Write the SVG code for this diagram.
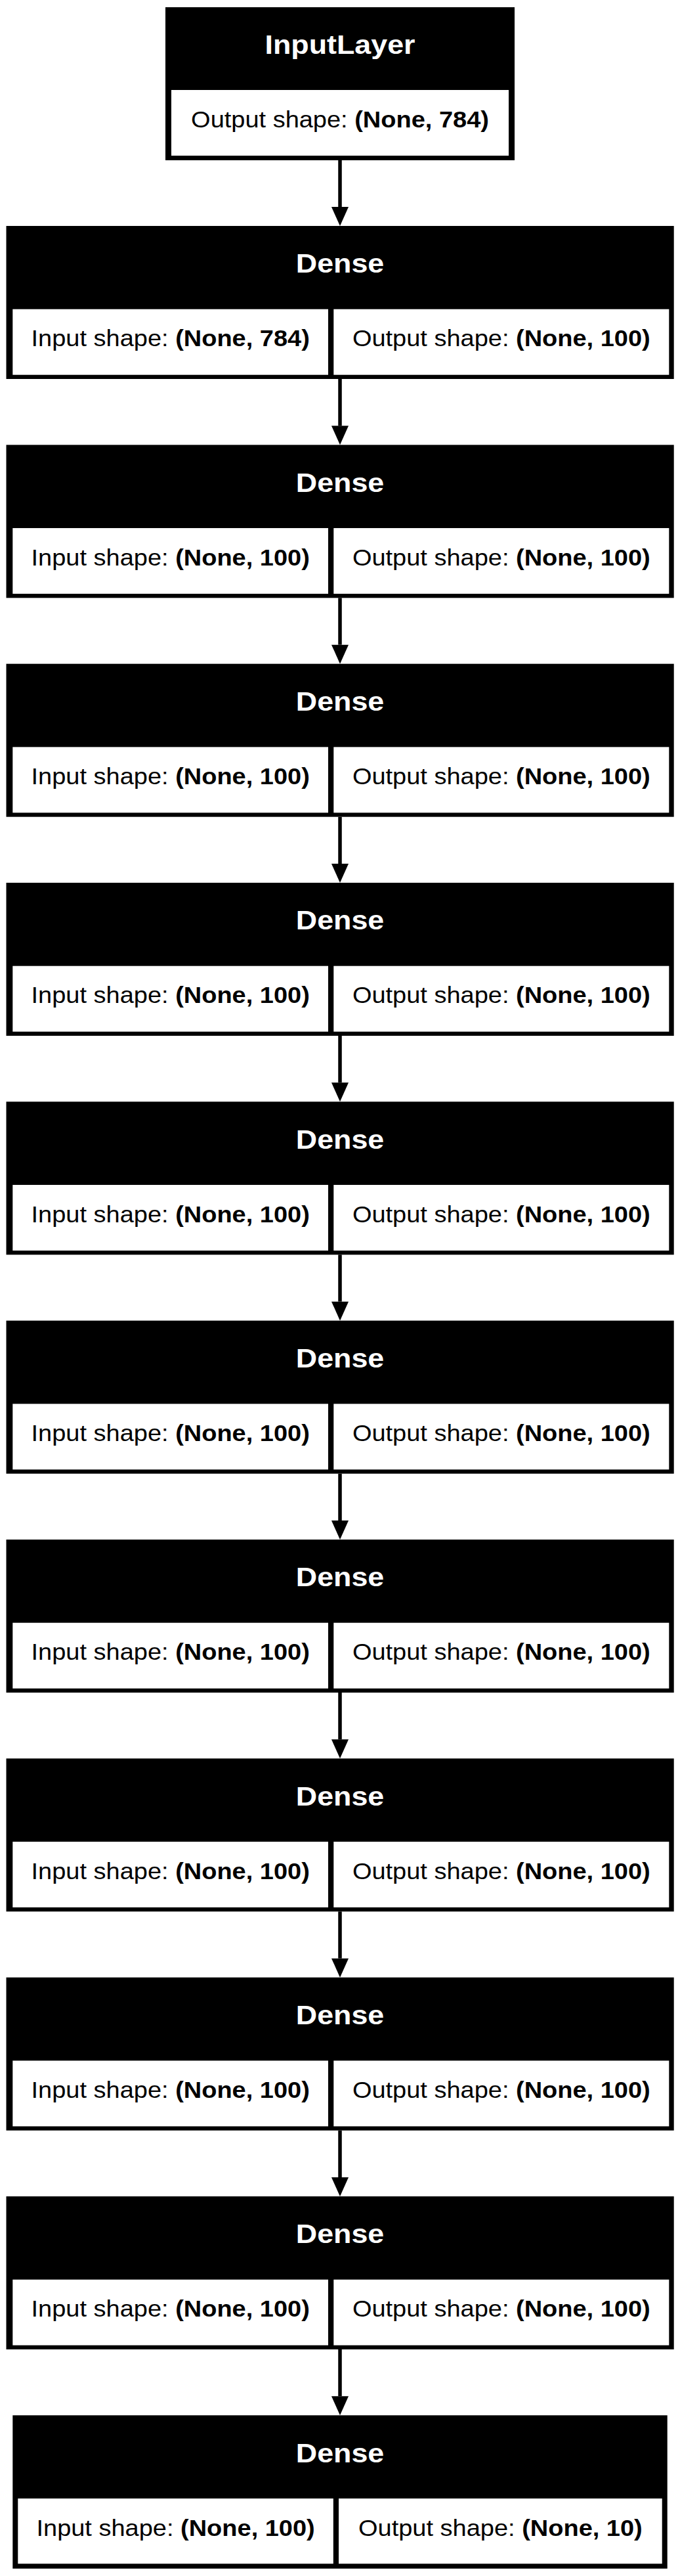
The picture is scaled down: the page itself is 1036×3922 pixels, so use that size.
<svg xmlns="http://www.w3.org/2000/svg" width="1036" height="3922" viewBox="0 0 1036 3922">
<style>
.bg{fill:#fff}
.box{fill:#000}
.cell{fill:#fff}
.title{font-family:"Liberation Sans",Arial,sans-serif;font-weight:bold;font-size:40px;fill:#fff;text-anchor:middle}
.body{font-family:"Liberation Sans",Arial,sans-serif;font-size:36px;fill:#000;text-anchor:middle}
.b{font-weight:bold}
.edge{stroke:#000;stroke-width:5.5;fill:none}
</style>
<defs>
<marker id="arr" markerUnits="userSpaceOnUse" markerWidth="30" markerHeight="28" refX="0" refY="13" orient="auto" viewBox="0 0 30 26" overflow="visible">
<path d="M0,0 L29,13 L0,26 Z" fill="#000"/>
</marker>
</defs>
<rect class="bg" x="0" y="0" width="1036" height="3922"/>

<g id="connectors">
<path class="edge" d="M518,244 V315" marker-end="url(#arr)"/>
<path class="edge" d="M518,577 V648.33" marker-end="url(#arr)"/>
<path class="edge" d="M518,910.33 V981.67" marker-end="url(#arr)"/>
<path class="edge" d="M518,1243.67 V1315" marker-end="url(#arr)"/>
<path class="edge" d="M518,1577 V1648.33" marker-end="url(#arr)"/>
<path class="edge" d="M518,1910.33 V1981.67" marker-end="url(#arr)"/>
<path class="edge" d="M518,2243.67 V2315" marker-end="url(#arr)"/>
<path class="edge" d="M518,2577 V2648.33" marker-end="url(#arr)"/>
<path class="edge" d="M518,2910.33 V2981.67" marker-end="url(#arr)"/>
<path class="edge" d="M518,3243.67 V3315" marker-end="url(#arr)"/>
<path class="edge" d="M518,3577 V3648.33" marker-end="url(#arr)"/>
</g>

<g id="node-input">
<rect class="box" x="252" y="11" width="532" height="233"/>
<rect class="cell" x="261" y="137" width="514" height="100"/>
<text class="title" transform="translate(518,82.3) scale(1.12,1)">InputLayer</text>
<text class="body" transform="translate(518,193.5) scale(1.055,1)">Output shape: <tspan class="b">(None, 784)</tspan></text>
</g>

<g id="node-dense-1">
<rect class="box" x="9.5" y="344" width="1017.2" height="233"/>
<rect class="cell" x="19.3" y="470.7" width="480.7" height="100"/>
<rect class="cell" x="508.3" y="470.7" width="511" height="100"/>
<text class="title" transform="translate(518,415.3) scale(1.12,1)">Dense</text>
<text class="body" transform="translate(259.7,527.2) scale(1.055,1)">Input shape: <tspan class="b">(None, 784)</tspan></text>
<text class="body" transform="translate(763.8,527.2) scale(1.055,1)">Output shape: <tspan class="b">(None, 100)</tspan></text>
</g>

<g id="node-dense-2">
<rect class="box" x="9.5" y="677.33" width="1017.2" height="233"/>
<rect class="cell" x="19.3" y="804.03" width="480.7" height="100"/>
<rect class="cell" x="508.3" y="804.03" width="511" height="100"/>
<text class="title" transform="translate(518,748.63) scale(1.12,1)">Dense</text>
<text class="body" transform="translate(259.7,860.53) scale(1.055,1)">Input shape: <tspan class="b">(None, 100)</tspan></text>
<text class="body" transform="translate(763.8,860.53) scale(1.055,1)">Output shape: <tspan class="b">(None, 100)</tspan></text>
</g>

<g id="node-dense-3">
<rect class="box" x="9.5" y="1010.67" width="1017.2" height="233"/>
<rect class="cell" x="19.3" y="1137.37" width="480.7" height="100"/>
<rect class="cell" x="508.3" y="1137.37" width="511" height="100"/>
<text class="title" transform="translate(518,1081.97) scale(1.12,1)">Dense</text>
<text class="body" transform="translate(259.7,1193.87) scale(1.055,1)">Input shape: <tspan class="b">(None, 100)</tspan></text>
<text class="body" transform="translate(763.8,1193.87) scale(1.055,1)">Output shape: <tspan class="b">(None, 100)</tspan></text>
</g>

<g id="node-dense-4">
<rect class="box" x="9.5" y="1344" width="1017.2" height="233"/>
<rect class="cell" x="19.3" y="1470.7" width="480.7" height="100"/>
<rect class="cell" x="508.3" y="1470.7" width="511" height="100"/>
<text class="title" transform="translate(518,1415.3) scale(1.12,1)">Dense</text>
<text class="body" transform="translate(259.7,1527.2) scale(1.055,1)">Input shape: <tspan class="b">(None, 100)</tspan></text>
<text class="body" transform="translate(763.8,1527.2) scale(1.055,1)">Output shape: <tspan class="b">(None, 100)</tspan></text>
</g>

<g id="node-dense-5">
<rect class="box" x="9.5" y="1677.33" width="1017.2" height="233"/>
<rect class="cell" x="19.3" y="1804.03" width="480.7" height="100"/>
<rect class="cell" x="508.3" y="1804.03" width="511" height="100"/>
<text class="title" transform="translate(518,1748.63) scale(1.12,1)">Dense</text>
<text class="body" transform="translate(259.7,1860.53) scale(1.055,1)">Input shape: <tspan class="b">(None, 100)</tspan></text>
<text class="body" transform="translate(763.8,1860.53) scale(1.055,1)">Output shape: <tspan class="b">(None, 100)</tspan></text>
</g>

<g id="node-dense-6">
<rect class="box" x="9.5" y="2010.67" width="1017.2" height="233"/>
<rect class="cell" x="19.3" y="2137.37" width="480.7" height="100"/>
<rect class="cell" x="508.3" y="2137.37" width="511" height="100"/>
<text class="title" transform="translate(518,2081.97) scale(1.12,1)">Dense</text>
<text class="body" transform="translate(259.7,2193.87) scale(1.055,1)">Input shape: <tspan class="b">(None, 100)</tspan></text>
<text class="body" transform="translate(763.8,2193.87) scale(1.055,1)">Output shape: <tspan class="b">(None, 100)</tspan></text>
</g>

<g id="node-dense-7">
<rect class="box" x="9.5" y="2344" width="1017.2" height="233"/>
<rect class="cell" x="19.3" y="2470.7" width="480.7" height="100"/>
<rect class="cell" x="508.3" y="2470.7" width="511" height="100"/>
<text class="title" transform="translate(518,2415.3) scale(1.12,1)">Dense</text>
<text class="body" transform="translate(259.7,2527.2) scale(1.055,1)">Input shape: <tspan class="b">(None, 100)</tspan></text>
<text class="body" transform="translate(763.8,2527.2) scale(1.055,1)">Output shape: <tspan class="b">(None, 100)</tspan></text>
</g>

<g id="node-dense-8">
<rect class="box" x="9.5" y="2677.33" width="1017.2" height="233"/>
<rect class="cell" x="19.3" y="2804.03" width="480.7" height="100"/>
<rect class="cell" x="508.3" y="2804.03" width="511" height="100"/>
<text class="title" transform="translate(518,2748.63) scale(1.12,1)">Dense</text>
<text class="body" transform="translate(259.7,2860.53) scale(1.055,1)">Input shape: <tspan class="b">(None, 100)</tspan></text>
<text class="body" transform="translate(763.8,2860.53) scale(1.055,1)">Output shape: <tspan class="b">(None, 100)</tspan></text>
</g>

<g id="node-dense-9">
<rect class="box" x="9.5" y="3010.67" width="1017.2" height="233"/>
<rect class="cell" x="19.3" y="3137.37" width="480.7" height="100"/>
<rect class="cell" x="508.3" y="3137.37" width="511" height="100"/>
<text class="title" transform="translate(518,3081.97) scale(1.12,1)">Dense</text>
<text class="body" transform="translate(259.7,3193.87) scale(1.055,1)">Input shape: <tspan class="b">(None, 100)</tspan></text>
<text class="body" transform="translate(763.8,3193.87) scale(1.055,1)">Output shape: <tspan class="b">(None, 100)</tspan></text>
</g>

<g id="node-dense-10">
<rect class="box" x="9.5" y="3344" width="1017.2" height="233"/>
<rect class="cell" x="19.3" y="3470.7" width="480.7" height="100"/>
<rect class="cell" x="508.3" y="3470.7" width="511" height="100"/>
<text class="title" transform="translate(518,3415.3) scale(1.12,1)">Dense</text>
<text class="body" transform="translate(259.7,3527.2) scale(1.055,1)">Input shape: <tspan class="b">(None, 100)</tspan></text>
<text class="body" transform="translate(763.8,3527.2) scale(1.055,1)">Output shape: <tspan class="b">(None, 100)</tspan></text>
</g>

<g id="node-dense-11">
<rect class="box" x="19.3" y="3677.33" width="997.4" height="233.4"/>
<rect class="cell" x="27.3" y="3804" width="480.5" height="99.3"/>
<rect class="cell" x="516" y="3804" width="492.7" height="99.3"/>
<text class="title" transform="translate(518,3748.63) scale(1.12,1)">Dense</text>
<text class="body" transform="translate(267.6,3860.5) scale(1.055,1)">Input shape: <tspan class="b">(None, 100)</tspan></text>
<text class="body" transform="translate(762.4,3860.5) scale(1.055,1)">Output shape: <tspan class="b">(None, 10)</tspan></text>
</g>
</svg>
